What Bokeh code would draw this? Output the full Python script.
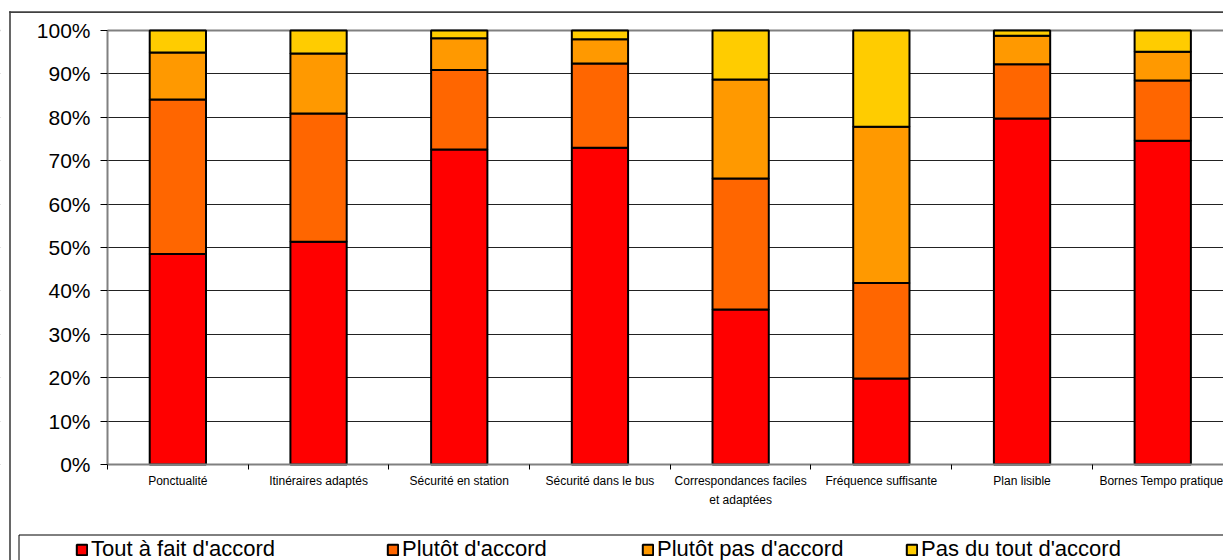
from bokeh.plotting import figure
from bokeh.models import (Range1d, FixedTicker, Legend, LegendItem, BoxAnnotation,
                          Span, ColumnDataSource)
from bokeh.embed import file_html
from bokeh.resources import INLINE

categories = ["Ponctualité", "Itinéraires adaptés", "Sécurité en station",
              "Sécurité dans le bus", "Correspondances faciles\net adaptées",
              "Fréquence suffisante", "Plan lisible", "Bornes Tempo pratique"]
tout_a_fait = [48.5, 51.3, 72.6, 73.0, 35.7, 19.8, 79.7, 74.6]
plutot = [35.6, 29.6, 18.3, 19.4, 30.2, 22.0, 12.5, 13.9]
plutot_pas = [10.8, 13.8, 7.3, 5.6, 22.8, 36.0, 6.6, 6.6]
pas_du_tout = [5.1, 5.3, 1.8, 2.0, 11.3, 22.2, 1.2, 4.9]
series_names = ["Tout à fait d'accord", "Plutôt d'accord",
                "Plutôt pas d'accord", "Pas du tout d'accord"]
colors = ["#FF0000", "#FF6600", "#FF9900", "#FFCC00"]
y_ticks = [0, 10, 20, 30, 40, 50, 60, 70, 80, 90, 100]

FONT = "Liberation Sans"
W, H = 1223, 560

xs = [i + 0.5 for i in range(len(categories))]
keys = ["s0", "s1", "s2", "s3"]
src = ColumnDataSource(dict(x=xs, s0=tout_a_fait, s1=plutot, s2=plutot_pas, s3=pas_du_tout))

# frame covers the whole canvas; axes are pinned at x=0 / y=0
p = figure(width=W, height=H, output_backend="svg", toolbar_location=None,
           x_range=Range1d(-0.7605, 7.9318), y_range=Range1d(-22.12, 106.91),
           min_border=0)
p.outline_line_color = None
p.background_fill_color = "white"
p.border_fill_color = "white"

renderers = p.vbar_stack(keys, x="x", width=0.4, source=src, fill_color=colors,
                         line_color="black", line_width=2)

# axes
xax = p.xaxis[0]
xax.fixed_location = 0
xax.bounds = (0, len(categories))
xax.ticker = FixedTicker(ticks=xs, minor_ticks=list(range(len(categories) + 1)))
xax.major_label_overrides = {x: c for x, c in zip(xs, categories)}
xax.major_tick_out = 0
xax.major_tick_in = 0
xax.minor_tick_out = 5
xax.minor_tick_in = 0
xax.minor_tick_line_color = "black"
xax.axis_line_color = "#808080"
xax.axis_line_width = 2
xax.major_label_text_font = FONT
xax.major_label_text_font_size = "12px"
xax.major_label_text_color = "black"
xax.major_label_text_line_height = 1.35
xax.major_label_standoff = 5

yax = p.yaxis[0]
yax.fixed_location = 0
yax.bounds = (0, 100)
yax.ticker = FixedTicker(ticks=y_ticks, minor_ticks=[])
yax.major_label_overrides = {t: f"{t}%" for t in y_ticks}
yax.major_tick_out = 7
yax.major_tick_in = 0
yax.major_tick_line_color = "black"
yax.axis_line_color = "#808080"
yax.axis_line_width = 2
yax.major_label_text_font = FONT
yax.major_label_text_font_size = "21px"
yax.major_label_text_color = "black"
yax.major_label_standoff = 10

p.xgrid.grid_line_color = None
p.ygrid.grid_line_color = "#222222"
p.ygrid.grid_line_width = 1

p.add_layout(Span(location=100, dimension="width", line_color="#808080",
                  line_width=2, level="underlay"))
# hide grid lines left of the value axis
p.add_layout(BoxAnnotation(left=-10, right=0, top=200, bottom=-200, fill_color="white",
                           fill_alpha=1, line_alpha=0, level="underlay"))

# legend (four one-item legends at Excel-like positions)
leg_x = [75, 386, 641, 905]
for r, name, lx in zip(renderers, series_names, leg_x):
    leg = Legend(items=[LegendItem(label=name, renderers=[r])], location=(lx, -2),
                 orientation="horizontal", padding=0, margin=0, spacing=0,
                 border_line_color=None, background_fill_alpha=0,
                 glyph_width=13, glyph_height=13, label_standoff=3,
                 label_text_font=FONT, label_text_font_size="22px",
                 label_text_color="black")
    p.add_layout(leg, "center")


def canvas_box(left, top, right, bottom, **kw):
    return BoxAnnotation(left=left, top=top, right=right, bottom=bottom,
                         left_units="canvas", right_units="canvas",
                         top_units="canvas", bottom_units="canvas", **kw)


# outer chart border (top and left edges, drawn as thin filled bars)
p.add_layout(canvas_box(8.7, 10.8, W + 10, 12.4, fill_color="#404040", fill_alpha=1,
                        line_alpha=0, level="overlay"))
p.add_layout(canvas_box(8.7, 10.8, 10.3, H + 10, fill_color="#404040", fill_alpha=1,
                        line_alpha=0, level="overlay"))
# legend box
p.add_layout(canvas_box(18.5, 534.5, W + 10, H + 10, fill_alpha=0, line_color="black",
                        line_alpha=1, line_width=1, line_dash="solid"))

open("out.html", "w").write(file_html(p, INLINE))
